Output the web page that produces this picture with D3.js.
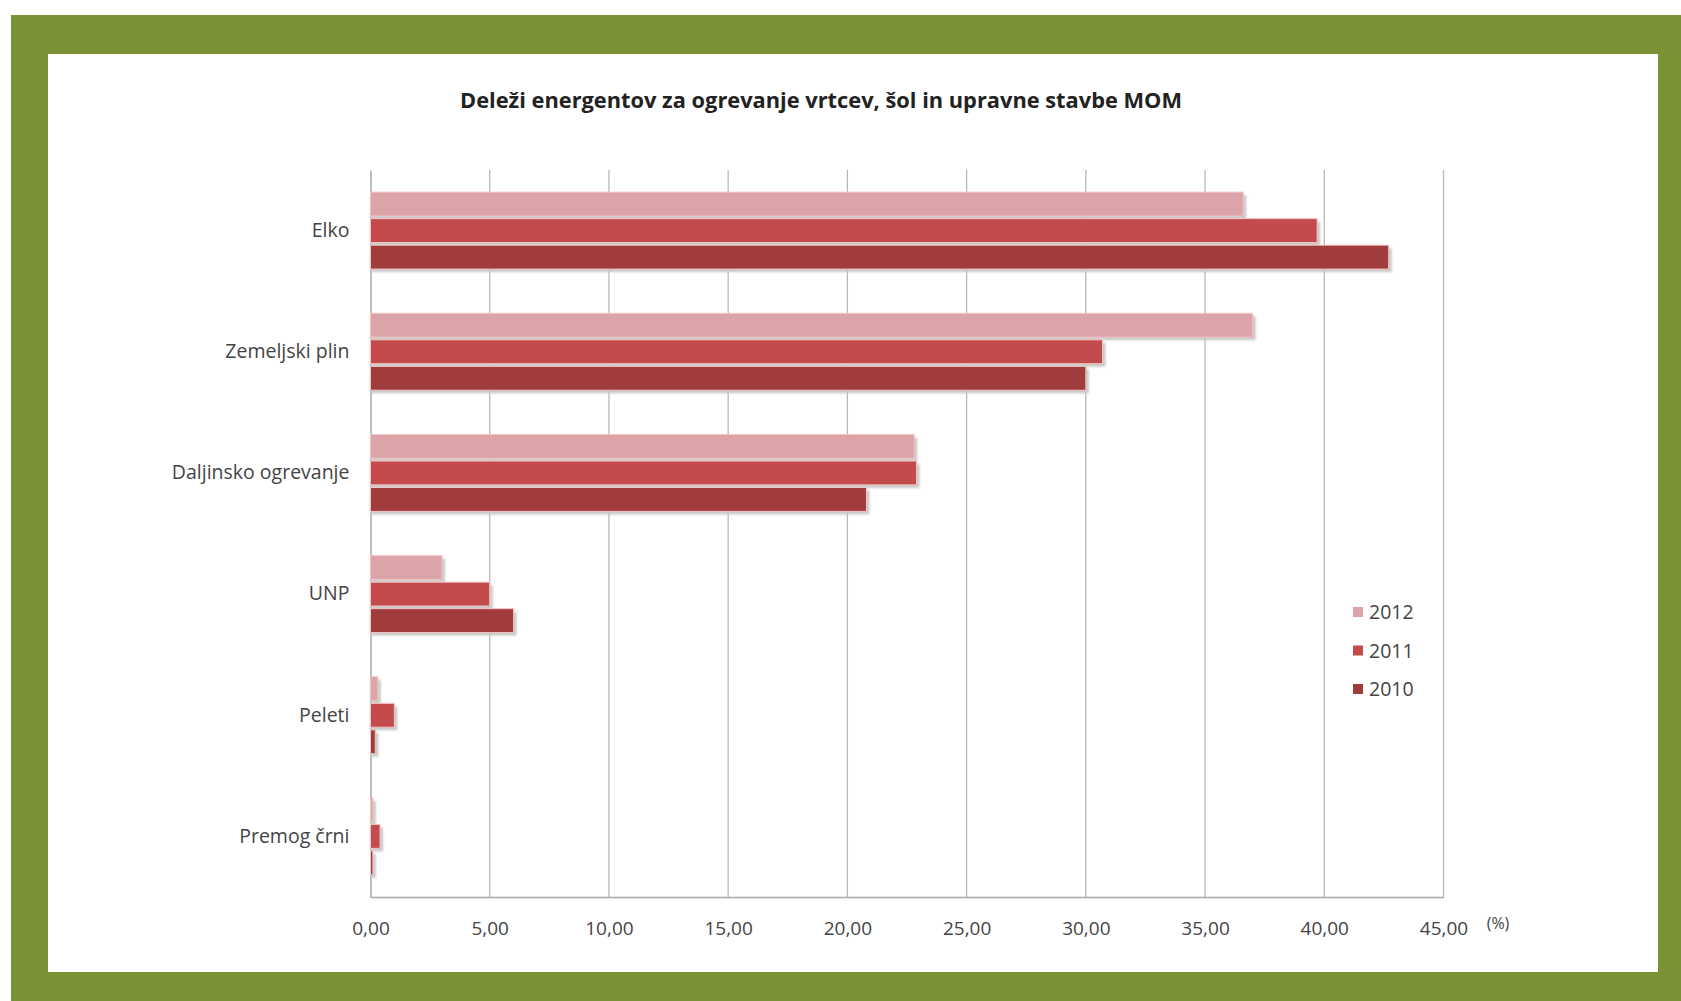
<!DOCTYPE html>
<html><head><meta charset="utf-8">
<script src="https://cdn.jsdelivr.net/npm/d3@7"></script>
<style>html,body{margin:0;padding:0;background:#fff;}svg{display:block;}</style>
</head><body>
<script>
const categories = ["Elko","Zemeljski plin","Daljinsko ogrevanje","UNP","Peleti","Premog črni"];
const seriesNames = ["2012","2011","2010"];
const values2012 = [36.6, 37.0, 22.8, 3.0, 0.3, 0.1];
const values2011 = [39.7, 30.7, 22.9, 5.0, 1.0, 0.4];
const values2010 = [42.7, 30.0, 20.8, 6.0, 0.2, 0.1];
const tickValues = [0,5,10,15,20,25,30,35,40,45];
const tickLabels = ["0,00","5,00","10,00","15,00","20,00","25,00","30,00","35,00","40,00","45,00"];
const colors = ["#dca4a9","#c44b4b","#a13c3c"];
const title = "Deleži energentov za ogrevanje vrtcev, šol in upravne stavbe MOM";

(function(){
const W=1681,H=1001;
const FONT="Open Sans, sans-serif";
const svg=d3.select("body").append("svg").attr("width",W).attr("height",H);
const defs=svg.append("defs");
const f=defs.append("filter").attr("id","sh").attr("x","-5%").attr("y","-20%").attr("width","115%").attr("height","160%");
f.append("feGaussianBlur").attr("stdDeviation",1.2);

svg.append("rect").attr("x",11).attr("y",15).attr("width",W-11).attr("height",H-15).attr("fill","#7b9234");
svg.append("rect").attr("x",48).attr("y",54).attr("width",1610).attr("height",918).attr("fill","#fff");

const pL=370.5, pR=1443.5, pT=170, pB=897;
const x=d3.scaleLinear().domain([0,45]).range([pL,pR]);
const y=d3.scaleBand().domain(categories).range([pT,pB]).paddingInner(0.365).paddingOuter(0.1825);
const yi=d3.scaleBand().domain(seriesNames).range([0,y.bandwidth()]).paddingInner(0.1);

svg.append("text").attr("x",821).attr("y",108).attr("text-anchor","middle")
  .attr("font-family",FONT).attr("font-weight","bold").attr("font-size",21)
  .attr("fill","#222").attr("textLength",722).attr("lengthAdjust","spacingAndGlyphs").text(title);

svg.append("g").selectAll("line").data(tickValues.slice(1)).join("line")
  .attr("x1",d=>x(d)).attr("x2",d=>x(d)).attr("y1",pT).attr("y2",pB)
  .attr("stroke","#b8b8b8").attr("stroke-width",1.3);

const xAxis=d3.axisBottom(x).tickValues(tickValues).tickFormat((d,i)=>tickLabels[i]).tickSize(0).tickPadding(38);
const gx=svg.append("g").attr("transform",`translate(0,${pB})`).call(xAxis);
gx.select(".domain").attr("stroke","#a8a8a8").attr("stroke-width",1.5);
gx.selectAll("text").attr("font-family",FONT).attr("font-size",19).attr("fill","#444").attr("dy","0");
svg.append("text").attr("x",1498).attr("y",929).attr("text-anchor","middle").attr("font-family",FONT)
  .attr("font-size",16).attr("fill","#444").text("(%)");

const yAxis=d3.axisLeft(y).tickSize(0).tickPadding(21);
const gy=svg.append("g").attr("transform",`translate(${pL},0)`).call(yAxis);
gy.select(".domain").attr("stroke","#a8a8a8").attr("stroke-width",1.5);
gy.selectAll("text").attr("font-family",FONT).attr("font-size",19.5).attr("fill","#444");

const data=categories.map((c,i)=>({cat:c, vals:[values2012[i],values2011[i],values2010[i]]}));
const groups=svg.append("g").selectAll("g").data(data).join("g").attr("transform",d=>`translate(0,${y(d.cat)})`);
groups.each(function(d){
  const g=d3.select(this);
  d.vals.forEach((v,k)=>{
    const s=seriesNames[k];
    g.append("rect").attr("x",x(0)).attr("y",yi(s)+3).attr("width",x(v)-x(0)+3).attr("height",yi.bandwidth())
      .attr("fill","#c8c8c8").attr("filter","url(#sh)");
  });
  d.vals.forEach((v,k)=>{
    const s=seriesNames[k];
    g.append("rect").attr("x",x(0)).attr("y",yi(s)).attr("width",x(v)-x(0)).attr("height",yi.bandwidth())
      .attr("fill",colors[k]).attr("stroke","#f2c6c6").attr("stroke-width",1);
  });
});

const lg=svg.append("g");
seriesNames.forEach((s,k)=>{
  const yy=612+k*38.5;
  lg.append("rect").attr("x",1353).attr("y",yy-5).attr("width",10).attr("height",10).attr("fill",colors[k]);
  lg.append("text").attr("x",1369).attr("y",yy+7).attr("font-family",FONT).attr("font-size",19.5).attr("fill","#444").text(s);
});
})();
</script>
</body></html>
